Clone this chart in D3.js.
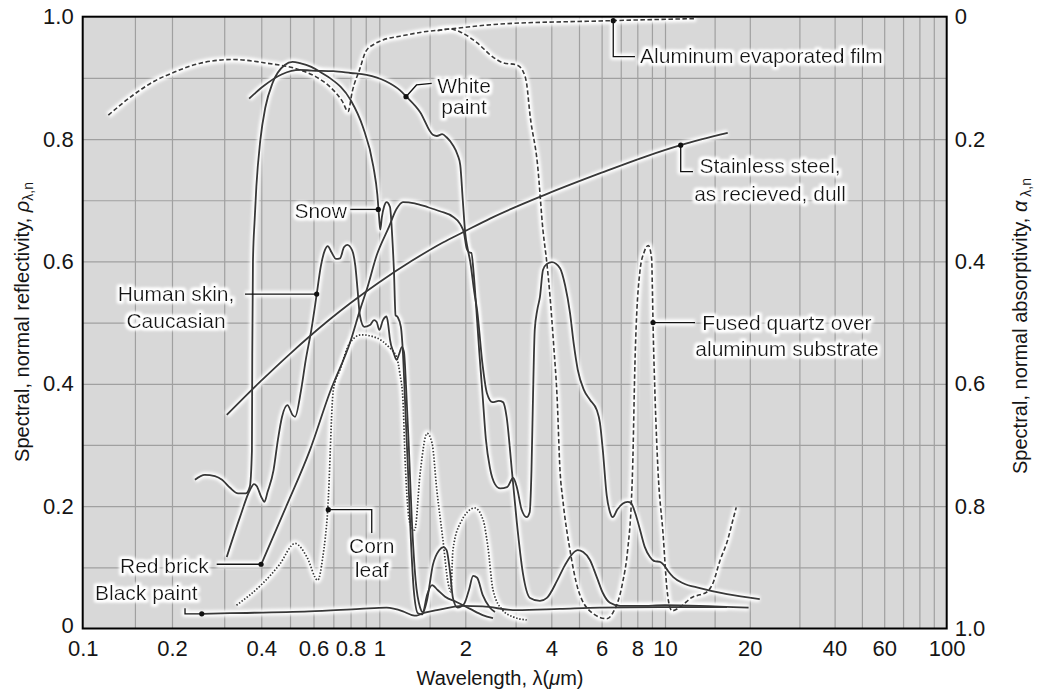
<!DOCTYPE html>
<html>
<head>
<meta charset="utf-8">
<script src="https://cdn.jsdelivr.net/npm/d3@7"></script>
<style>
body { margin: 0; background: #fff; }
text { font-family: "Liberation Sans", Arial, sans-serif; fill: #151515; }
</style>
</head>
<body>
<script>
// wavelength (um), spectral normal reflectivity
const aluminumFilm = [[0.122,0.839],[0.148,0.872],[0.175,0.895],[0.205,0.91],[0.249,0.924],[0.32,0.93],[0.418,0.924],[0.54,0.913],[0.61,0.902],[0.70,0.88],[0.75,0.862],[0.785,0.845],[0.81,0.877],[0.86,0.915],[0.90,0.943],[0.96,0.955],[1.03,0.962],[1.18,0.968],[1.42,0.975],[1.77,0.98],[2.65,0.988],[5.9,0.993],[12.9,0.997]];
const fusedQuartz = [[1.6,0.977],[1.77,0.98],[1.92,0.975],[2.19,0.958],[2.5,0.934],[2.7,0.925],[3.03,0.921],[3.19,0.91],[3.28,0.89],[3.37,0.839],[3.58,0.758],[3.74,0.651],[3.86,0.597],[3.96,0.542],[4.08,0.461],[4.19,0.379],[4.29,0.259],[4.39,0.21],[4.65,0.128],[4.97,0.063],[5.58,0.025],[6.25,0.016],[6.56,0.025],[7.1,0.074],[7.4,0.128],[7.63,0.21],[7.7,0.259],[7.85,0.434],[8.18,0.586],[8.45,0.615],[8.74,0.626],[8.98,0.605],[9.03,0.56],[9.08,0.5],[9.23,0.379],[9.45,0.259],[9.84,0.156],[10.17,0.063],[10.4,0.035],[10.6,0.029],[11.3,0.035],[12.6,0.052],[13.3,0.055],[14.1,0.06],[14.7,0.071],[15.7,0.112],[16.7,0.145],[17.3,0.172],[17.9,0.198]];
const whitePaint = [[0.364,0.866],[0.403,0.885],[0.47,0.906],[0.54,0.913],[0.59,0.912],[0.70,0.911],[0.80,0.908],[0.905,0.905],[1.05,0.895],[1.18,0.88],[1.24,0.87],[1.39,0.844],[1.54,0.807],[1.59,0.805],[1.66,0.808],[1.72,0.803],[1.81,0.79],[1.88,0.774],[1.92,0.758],[1.96,0.70],[2.0,0.645],[2.04,0.62],[2.08,0.60],[2.15,0.55],[2.2,0.52],[2.3,0.43],[2.38,0.385],[2.49,0.37],[2.62,0.372],[2.71,0.37],[2.79,0.346],[2.91,0.259],[3.03,0.173],[3.18,0.091],[3.37,0.05],[3.65,0.045],[3.86,0.05],[4.2,0.079],[4.47,0.104],[4.65,0.117],[4.95,0.128],[5.17,0.125],[5.46,0.112],[5.77,0.084],[6.06,0.058],[6.42,0.042],[6.96,0.037],[8.18,0.037],[10,0.038],[13.3,0.037],[19.8,0.034]];
const redBrick = [[0.40,0.105],[0.486,0.2],[0.584,0.292],[0.68,0.385],[0.8,0.47],[0.86,0.52],[0.91,0.556],[0.98,0.61],[1.08,0.656],[1.15,0.686],[1.21,0.697],[1.33,0.695],[1.47,0.689],[1.63,0.682],[1.81,0.673],[1.92,0.661],[1.98,0.646],[2.02,0.622],[2.06,0.615],[2.1,0.614],[2.14,0.58],[2.18,0.53],[2.24,0.45],[2.3,0.38],[2.36,0.31],[2.44,0.262],[2.54,0.236],[2.65,0.229],[2.8,0.231],[2.94,0.246],[3.03,0.231],[3.15,0.194],[3.28,0.182],[3.36,0.19],[3.41,0.26],[3.45,0.374],[3.5,0.488],[3.57,0.52],[3.65,0.542],[3.74,0.586],[3.86,0.596],[4.02,0.599],[4.29,0.589],[4.47,0.561],[4.65,0.516],[4.8,0.463],[4.95,0.423],[5.2,0.39],[5.46,0.374],[5.77,0.357],[5.92,0.336],[6.06,0.291],[6.25,0.218],[6.42,0.19],[6.56,0.182],[6.8,0.194],[7.1,0.204],[7.4,0.207],[7.6,0.205],[7.9,0.186],[8.18,0.161],[8.5,0.133],[8.86,0.117],[9.2,0.11],[9.6,0.109],[9.9,0.104],[10.25,0.094],[10.7,0.084],[11.6,0.074],[13.3,0.066],[16.6,0.056],[21.7,0.048]];
const snow = [[0.239,0.243],[0.258,0.251],[0.279,0.249],[0.295,0.243],[0.314,0.23],[0.334,0.221],[0.355,0.221],[0.366,0.232],[0.372,0.29],[0.373,0.45],[0.375,0.6],[0.38,0.668],[0.385,0.722],[0.397,0.798],[0.413,0.852],[0.437,0.892],[0.48,0.921],[0.51,0.926],[0.54,0.924],[0.59,0.918],[0.64,0.908],[0.68,0.9],[0.8,0.864],[0.88,0.82],[0.955,0.755],[0.985,0.709],[1.0,0.668],[1.008,0.652],[1.02,0.671],[1.04,0.69],[1.06,0.697],[1.09,0.689],[1.11,0.64],[1.125,0.586],[1.14,0.512],[1.16,0.509],[1.19,0.493],[1.21,0.45],[1.23,0.374],[1.26,0.259],[1.29,0.145],[1.32,0.063],[1.365,0.025],[1.41,0.023],[1.47,0.047],[1.54,0.104],[1.62,0.128],[1.68,0.133],[1.72,0.128],[1.77,0.091],[1.81,0.05],[1.88,0.034],[1.98,0.04],[2.06,0.063],[2.13,0.086],[2.2,0.083],[2.3,0.055],[2.44,0.034],[2.54,0.027]];
const humanSkin = [[0.306,0.117],[0.339,0.182],[0.366,0.226],[0.378,0.236],[0.386,0.233],[0.4,0.215],[0.41,0.207],[0.42,0.223],[0.44,0.259],[0.455,0.308],[0.47,0.346],[0.49,0.365],[0.51,0.349],[0.52,0.346],[0.545,0.39],[0.565,0.439],[0.59,0.488],[0.615,0.546],[0.635,0.592],[0.655,0.618],[0.67,0.625],[0.69,0.615],[0.715,0.604],[0.737,0.605],[0.76,0.623],[0.78,0.627],[0.81,0.618],[0.83,0.593],[0.845,0.553],[0.86,0.512],[0.89,0.493],[0.93,0.496],[0.96,0.504],[0.98,0.501],[1.0,0.488],[1.03,0.504],[1.06,0.51],[1.075,0.496],[1.09,0.472],[1.12,0.452],[1.15,0.439],[1.17,0.447],[1.2,0.46],[1.22,0.452],[1.24,0.398],[1.27,0.292],[1.3,0.177],[1.34,0.079],[1.39,0.034],[1.42,0.027],[1.47,0.055],[1.53,0.071],[1.6,0.063],[1.7,0.052],[1.87,0.043],[2.08,0.032],[2.3,0.022],[2.5,0.017]];
const cornLeaf = [[0.33,0.038],[0.405,0.074],[0.46,0.104],[0.52,0.139],[0.57,0.117],[0.62,0.079],[0.645,0.117],[0.67,0.194],[0.70,0.39],[0.737,0.423],[0.796,0.467],[0.87,0.48],[0.98,0.475],[1.08,0.46],[1.15,0.443],[1.18,0.417],[1.21,0.374],[1.23,0.28],[1.28,0.172],[1.33,0.161],[1.39,0.254],[1.47,0.319],[1.53,0.303],[1.59,0.226],[1.67,0.145],[1.74,0.075],[1.78,0.06],[1.81,0.128],[1.92,0.172],[2.16,0.197],[2.31,0.177],[2.4,0.133],[2.5,0.063],[2.7,0.03],[2.94,0.019],[3.28,0.014]];
const stainlessSteel = [[0.306,0.349],[0.4,0.405],[0.5,0.449],[0.68,0.505],[0.8,0.532],[1.0,0.566],[1.3,0.601],[1.67,0.631],[1.97,0.648],[2.44,0.67],[3.85,0.71],[6.0,0.745],[8.5,0.771],[11.37,0.79],[16.7,0.81]];
const blackPaint = [[0.252,0.024],[0.314,0.025],[0.58,0.028],[0.86,0.032],[1.06,0.034],[1.21,0.028],[1.3,0.022],[1.35,0.021],[1.42,0.025],[1.59,0.03],[1.96,0.037],[2.3,0.036],[3.03,0.03],[4.29,0.032],[5.92,0.034],[9.6,0.035],[16.6,0.035]];

const xTicks = [0.1, 0.2, 0.4, 0.6, 0.8, 1, 2, 4, 6, 8, 10, 20, 40, 60, 100];
const xGrid = [0.15, 0.2, 0.3, 0.4, 0.5, 0.6, 0.7, 0.8, 0.9, 1, 1.5, 2, 3, 4, 5, 6, 7, 8, 9, 10, 15, 20, 30, 40, 50, 60, 70, 80, 90];
const yTicks = [0, 0.2, 0.4, 0.6, 0.8, 1];
const yGrid = [0.1, 0.2, 0.3, 0.4, 0.5, 0.6, 0.7, 0.8, 0.9];

const width = 1042, height = 691;

const svg = d3.select('body').append('svg')
  .attr('width', width)
  .attr('height', height);

// hand drawn log axis: each decade is a little different
const x = d3.scaleLog().domain([0.1, 1, 10, 100]).range([82.7, 379.3, 665, 946.7]);
const y = d3.scaleLinear().domain([0, 1]).range([628.5, 16.7]);
const yAbs = d3.scaleLinear().domain([0, 1]).range([16.7, 628.5]);

const defs = svg.append('defs');
defs.append('filter').attr('id', 'blur')
  .attr('filterUnits', 'userSpaceOnUse')
  .attr('x', 0).attr('y', 0).attr('width', width).attr('height', height)
  .append('feGaussianBlur').attr('stdDeviation', 1.5);

const halo = defs.append('filter').attr('id', 'halo')
  .attr('x', '-20%').attr('y', '-50%').attr('width', '140%').attr('height', '200%');
halo.append('feMorphology').attr('in', 'SourceAlpha').attr('operator', 'dilate').attr('radius', 2.2).attr('result', 'd');
halo.append('feGaussianBlur').attr('in', 'd').attr('stdDeviation', 1.6).attr('result', 'b');
halo.append('feFlood').attr('flood-color', '#fff');
halo.append('feComposite').attr('in2', 'b').attr('operator', 'in').attr('result', 'w');
const merge = halo.append('feMerge');
merge.append('feMergeNode').attr('in', 'w');
merge.append('feMergeNode').attr('in', 'w');
merge.append('feMergeNode').attr('in', 'SourceGraphic');

svg.append('rect')
  .attr('x', x(0.1)).attr('y', y(1))
  .attr('width', x(100) - x(0.1)).attr('height', y(0) - y(1))
  .attr('fill', '#d8d8d8');

const gx = svg.append('g')
  .attr('transform', 'translate(0,' + y(0) + ')')
  .call(d3.axisBottom(x).tickValues(xGrid).tickSize(-(y(0) - y(1))).tickFormat(''));
gx.select('.domain').remove();
gx.selectAll('line').attr('stroke', '#a0a0a0').attr('stroke-width', 1.2);

const gy = svg.append('g')
  .attr('transform', 'translate(' + x(0.1) + ',0)')
  .call(d3.axisLeft(y).tickValues(yGrid).tickSize(-(x(100) - x(0.1))).tickFormat(''));
gy.select('.domain').remove();
gy.selectAll('line').attr('stroke', '#a0a0a0').attr('stroke-width', 1.2);

const series = [
  { data: aluminumFilm, dash: '4.5,2.5', w: 1.6 },
  { data: fusedQuartz, dash: '4.5,2.5', w: 1.6 },
  { data: stainlessSteel, dash: null, w: 1.8 },
  { data: whitePaint, dash: null, w: 1.8 },
  { data: redBrick, dash: null, w: 1.8 },
  { data: snow, dash: null, w: 1.8 },
  { data: humanSkin, dash: null, w: 1.8 },
  { data: cornLeaf, dash: '1.5,1.7', w: 1.7 },
  { data: blackPaint, dash: null, w: 1.8 }
];

const line = d3.line()
  .x(d => x(d[0]))
  .y(d => y(d[1]))
  .curve(d3.curveMonotoneX);

// annotations, positions in data units
const notes = [
  { lines: ['Aluminum evaporated film'], at: [8.18, 0.9243], anchor: 'start', gap: 0, leader: [[6.59, 0.9935], [6.59, 0.9346], [7.85, 0.9346]] },
  { lines: ['White', 'paint'], at: [1.98, 0.8748], anchor: 'middle', gap: 21, leader: [[1.24, 0.8692], [1.35, 0.8884], [1.525, 0.8911]] },
  { lines: ['Stainless steel,', 'as recieved, dull'], at: [23.6, 0.7446], anchor: 'middle', gap: 28, leader: [[11.37, 0.79], [11.37, 0.7467], [12.57, 0.7467]] },
  { lines: ['Snow'], at: [0.778, 0.671], anchor: 'end', gap: 0, leader: [[0.992, 0.685], [0.797, 0.685]] },
  { lines: ['Human skin,', 'Caucasian'], at: [0.2064, 0.5353], anchor: 'middle', gap: 27, leader: [[0.615, 0.5467], [0.3526, 0.5467]] },
  { lines: ['Fused quartz over', 'aluminum substrate'], at: [27.1, 0.4879], anchor: 'middle', gap: 25.5, leader: [[9.08, 0.5], [12.78, 0.5]] },
  { lines: ['Red brick'], at: [0.1336, 0.0907], anchor: 'start', gap: 0, leader: [[0.3993, 0.105], [0.283, 0.105]] },
  { lines: ['Black paint'], at: [0.11, 0.0466], anchor: 'start', gap: 0, leader: [[0.252, 0.024], [0.2213, 0.024], [0.2213, 0.033]] },
  { lines: ['Corn', 'leaf'], at: [0.943, 0.1234], anchor: 'middle', gap: 24, leader: [[0.673, 0.1942], [0.943, 0.1942], [0.943, 0.1561]] }
];

const leader = d3.line().x(d => x(d[0])).y(d => y(d[1]));

// white glow under every curve
svg.append('g').selectAll('path')
  .data(series.map(s => s.data).concat(notes.map(n => n.leader)))
  .join('path')
  .attr('d', (d, i) => i < series.length ? line(d) : leader(d))
  .attr('fill', 'none')
  .attr('stroke', '#fff')
  .attr('stroke-width', 6.5)
  .attr('stroke-linejoin', 'round')
  .attr('filter', 'url(#blur)');

svg.append('g').selectAll('path')
  .data(series)
  .join('path')
  .attr('d', d => line(d.data))
  .attr('fill', 'none')
  .attr('stroke', '#383838')
  .attr('stroke-width', d => d.w)
  .attr('stroke-dasharray', d => d.dash);

const gn = svg.append('g');
gn.selectAll('path')
  .data(notes)
  .join('path')
  .attr('d', d => leader(d.leader))
  .attr('fill', 'none')
  .attr('stroke', '#111')
  .attr('stroke-width', 1.3);
gn.selectAll('circle')
  .data(notes)
  .join('circle')
  .attr('cx', d => x(d.leader[0][0]))
  .attr('cy', d => y(d.leader[0][1]))
  .attr('r', 2.6)
  .attr('fill', '#111');

notes.forEach(n => {
  const t = gn.append('text')
    .attr('x', x(n.at[0]))
    .attr('y', y(n.at[1]))
    .attr('text-anchor', n.anchor)
    .attr('font-size', 21)
    .attr('filter', 'url(#halo)');
  n.lines.forEach((s, i) => {
    t.append('tspan')
      .attr('x', x(n.at[0]))
      .attr('dy', i === 0 ? 0 : n.gap)
      .text(s);
  });
});

// frame
svg.append('rect')
  .attr('x', x(0.1)).attr('y', y(1))
  .attr('width', x(100) - x(0.1)).attr('height', y(0) - y(1))
  .attr('fill', 'none')
  .attr('stroke', '#000')
  .attr('stroke-width', 2);

const fmtY = d => d === 0 ? '0' : d.toFixed(1);

const ax = svg.append('g')
  .attr('transform', 'translate(0,' + y(0) + ')')
  .call(d3.axisBottom(x).tickValues(xTicks).tickFormat(d => String(d)).tickSize(0).tickPadding(12));
const ayl = svg.append('g')
  .attr('transform', 'translate(' + x(0.1) + ',0)')
  .call(d3.axisLeft(y).tickValues(yTicks).tickFormat(fmtY).tickSize(0).tickPadding(9));
const ayr = svg.append('g')
  .attr('transform', 'translate(' + x(100) + ',0)')
  .call(d3.axisRight(yAbs).tickValues(yTicks).tickFormat(fmtY).tickSize(0).tickPadding(8));
[ax, ayl, ayr].forEach(g => {
  g.select('.domain').remove();
  g.attr('font-size', 22).attr('font-family', '"Liberation Sans", Arial, sans-serif');
  g.selectAll('text').attr('fill', '#151515');
});
// the lowest left label sits a touch higher so it clears "0.1"
ayl.selectAll('.tick').filter(d => d === 0).select('text').attr('dy', '0.2em');

const xt = svg.append('text')
  .attr('x', 500).attr('y', 685)
  .attr('text-anchor', 'middle')
  .attr('font-size', 20);
xt.append('tspan').text('Wavelength, λ(');
xt.append('tspan').attr('font-style', 'italic').text('μ');
xt.append('tspan').text('m)');

const yl = svg.append('text')
  .attr('transform', 'translate(29,322) rotate(-90)')
  .attr('text-anchor', 'middle')
  .attr('font-size', 20);
yl.append('tspan').text('Spectral, normal reflectivity, ');
yl.append('tspan').attr('font-style', 'italic').text('ρ');
yl.append('tspan').attr('font-size', 14).attr('baseline-shift', '-25%').text('λ,n');

const yr = svg.append('text')
  .attr('transform', 'translate(1027,326) rotate(-90)')
  .attr('text-anchor', 'middle')
  .attr('font-size', 20);
yr.append('tspan').text('Spectral, normal absorptivity, ');
yr.append('tspan').attr('font-style', 'italic').text('α');
yr.append('tspan').attr('font-size', 14).attr('baseline-shift', '-25%').text(' λ,n');
</script>
</body>
</html>
